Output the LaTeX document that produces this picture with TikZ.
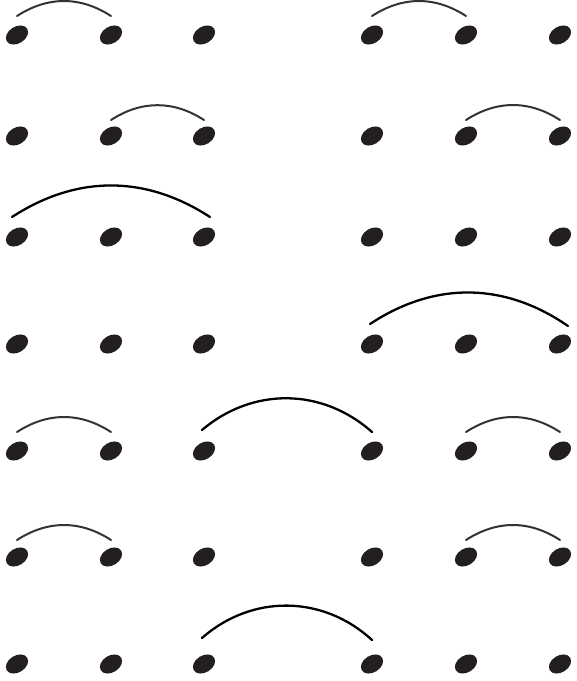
\documentclass[tikz,border=0pt]{standalone}
\usepackage{tikz}
\usetikzlibrary{shapes.geometric,calc}
\definecolor{dotink}{RGB}{35,31,32}

\tikzset{
  spot/.style={ellipse,fill=dotink,inner sep=0pt,minimum width=12pt,minimum height=8.4pt,rotate=32},
  shortarc/.style={line width=1pt,black!80,line cap=round},
  longarc/.style={line width=1.15pt,black,line cap=round}
}

\begin{document}
\begin{tikzpicture}[x=0.5pt,y=-0.5pt]
        \useasboundingbox (0,0) rectangle (577,681);
        % the seven rows of six dots
        \foreach \r/\y in {1/35,2/136,3/237,4/344,5/451,6/557,7/664}
          \foreach \c/\x in {1/17,2/111,3/204,4/372,5/466,6/560}
            \node[spot] (p\r\c) at (\x,\y) {};
        % short arcs over neighbours
        \draw[shortarc] ([yshift=9.5pt]p11.center) to[bend left=33] ([yshift=9.5pt]p12.center);
        \draw[shortarc] ([yshift=9.5pt]p14.center) to[bend left=33] ([yshift=9.5pt]p15.center);
        \draw[shortarc] ([yshift=8pt]p22.center) to[bend left=33] ([yshift=8pt]p23.center);
        \draw[shortarc] ([yshift=8pt]p25.center) to[bend left=33] ([yshift=8pt]p26.center);
        \draw[shortarc] ([yshift=9.5pt]p51.center) to[bend left=33] ([yshift=9.5pt]p52.center);
        \draw[shortarc] ([yshift=9.5pt]p55.center) to[bend left=33] ([yshift=9.5pt]p56.center);
        \draw[shortarc] ([yshift=8.5pt]p61.center) to[bend left=33] ([yshift=8.5pt]p62.center);
        \draw[shortarc] ([yshift=8.5pt]p65.center) to[bend left=33] ([yshift=8.5pt]p66.center);
        % long arcs
        \draw[longarc] ([xshift=-2.5pt,yshift=10pt]p31.center) to[bend left=33] ([xshift=3pt,yshift=10pt]p33.center);
        \draw[longarc] ([xshift=-1pt,yshift=10pt]p44.center) to[bend left=34] ([xshift=4pt,yshift=9pt]p46.center);
        \draw[longarc] ([xshift=-1pt,yshift=10.5pt]p53.center) to[bend left=41] ([yshift=9.5pt]p54.center);
        \draw[longarc] ([xshift=-1pt,yshift=13pt]p73.center) to[bend left=42] ([yshift=12pt]p74.center);
      \end{tikzpicture}
\end{document}
